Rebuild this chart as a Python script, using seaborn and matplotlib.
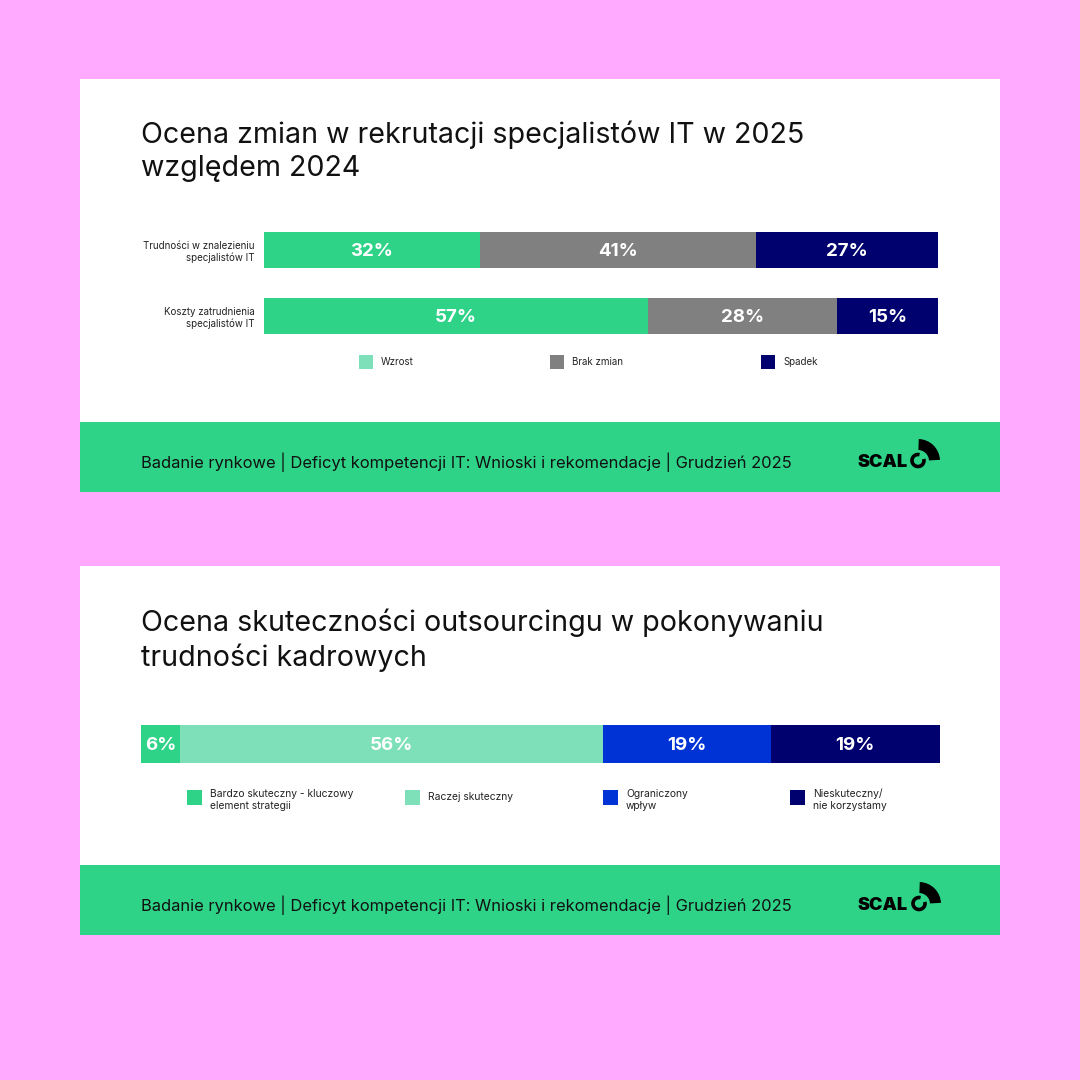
import numpy as np
import pandas as pd
import seaborn as sns
import matplotlib.pyplot as plt
from matplotlib.patches import Rectangle, Wedge, Arc

# dane - wykres 1
kategorie = ['Trudności w znalezieniu\nspecjalistów IT', 'Koszty zatrudnienia\nspecjalistów IT']
serie1 = ['Wzrost', 'Brak zmian', 'Spadek']
wzrost = [32, 57]
brak_zmian = [41, 28]
spadek = [27, 15]

oceny = ['Bardzo skuteczny - kluczowy\nelement strategii', 'Raczej skuteczny',
         'Ograniczony\nwpływ', 'Nieskuteczny/\nnie korzystamy']
udzialy = [4.9, 52.9, 21.0, 21.2]
etykiety2 = ['6%', '56%', '19%', '19%']

tytul1 = 'Ocena zmian w rekrutacji specjalistów IT w 2025\nwzględem 2024'
tytul2 = 'Ocena skuteczności outsourcingu w pokonywaniu\ntrudności kadrowych'
stopka = 'Badanie rynkowe | Deficyt kompetencji IT: Wnioski i rekomendacje | Grudzień 2025'

ROZ = '#FFAAFF'
ZIELONY = '#2ED388'
JASNY = '#7EE0B8'
SZARY = '#808080'
GRANAT = '#00006E'
NIEBIESKI = '#0033D6'

sns.set_theme(style='white')
plt.rcParams['font.family'] = ['Inter', 'DejaVu Sans']

W = 1080
fig = plt.figure(figsize=(10.8, 10.8), dpi=100, facecolor=ROZ)


def px(x, y):
    return x / W, 1 - y / W


def prostokat(x0, y0, x1, y1, kolor):
    fx, fy = px(x0, y1)
    fig.add_artist(Rectangle((fx, fy), (x1 - x0) / W, (y1 - y0) / W,
                             transform=fig.transFigure, color=kolor, lw=0, zorder=0))


def tekst(x, y, s, **kw):
    fx, fy = px(x, y)
    fig.text(fx, fy, s, **kw)


def os(x0, y0, x1, y1):
    fx, fy = px(x0, y1)
    ax = fig.add_axes([fx, fy, (x1 - x0) / W, (y1 - y0) / W])
    ax.patch.set_alpha(0)
    for s in ax.spines.values():
        s.set_visible(False)
    return ax


def logo(x, yb):
    tekst(x, yb, 'SCAL', fontsize=13, fontweight='black', color='black', va='baseline')
    cx, cy = px(x + 61, yb - 6.5)
    fig.add_artist(Arc((cx, cy), 12 / W, 12 / W, theta1=75, theta2=375,
                       transform=fig.transFigure, color='black', lw=2.6))
    wx, wy = px(x + 61, yb - 6)
    fig.add_artist(Wedge((wx, wy), 22 / W, 3, 88, width=11 / W,
                         transform=fig.transFigure, color='black', lw=0))


# karty
prostokat(80, 79, 1000, 422, 'white')
prostokat(80, 422, 1000, 492, ZIELONY)
prostokat(80, 566, 1000, 865, 'white')
prostokat(80, 865, 1000, 935, ZIELONY)

tekst(141, 151, tytul1, fontsize=20.6, color='#111111', va='center', linespacing=1.28)
tekst(141, 640, tytul2, fontsize=20.6, color='#111111', va='center', linespacing=1.28)

for yb in (462, 905):
    tekst(141, yb, stopka, fontsize=11.9, color='#111111', va='center')
logo(857, 467)
logo(858, 910)

# wykres 1 - skumulowane słupki
df1 = pd.DataFrame({'kategoria': kategorie, 'Wzrost': wzrost,
                    'Brak zmian': brak_zmian, 'Spadek': spadek})
kolory1 = [ZIELONY, SZARY, GRANAT]
cum1 = df1[serie1].cumsum(axis=1)

ax1 = os(264, 217, 938, 349)
for s, k in reversed(list(zip(serie1, kolory1))):
    sns.barplot(x=cum1[s], y=df1['kategoria'], orient='h', color=k,
                saturation=1, width=0.545, linewidth=0, ax=ax1)
for i in range(len(df1)):
    start = 0
    for s in serie1:
        v = df1.loc[i, s]
        ax1.text(start + v / 2, i + 0.02, f'{v}%', ha='center', va='center',
                 color='white', fontsize=13.5, fontweight='bold')
        start += v
ax1.set_xlim(0, 100)
ax1.set_ylim(1.5, -0.5)
ax1.set_xlabel('')
ax1.set_ylabel('')
ax1.set_xticks([])
ax1.tick_params(axis='y', length=0, pad=7, labelsize=7, labelcolor='#222222')
for t in ax1.get_yticklabels():
    t.set_multialignment('right')

leg1_x = [359, 550, 761]
leg1_kol = [JASNY, SZARY, GRANAT]
for x, s, k in zip(leg1_x, serie1, leg1_kol):
    prostokat(x, 355, x + 14, 369, k)
    tekst(x + 22, 362, s, fontsize=7, color='#222222', va='center')

# wykres 2 - jeden pasek
kolory2 = [ZIELONY, JASNY, NIEBIESKI, GRANAT]
cum2 = np.cumsum(udzialy)
ax2 = os(141, 715, 940, 773)
for c, k in reversed(list(zip(cum2, kolory2))):
    sns.barplot(x=[c], y=['ocena'], orient='h', color=k, saturation=1,
                width=38 / 58, linewidth=0, ax=ax2)
start = 0
for v, e in zip(udzialy, etykiety2):
    ax2.text(start + v / 2, 0.02, e, ha='center', va='center',
             color='white', fontsize=13.5, fontweight='bold')
    start += v
ax2.set_xlim(0, 100)
ax2.set_ylim(0.5, -0.5)
ax2.set_xticks([])
ax2.set_yticks([])
ax2.set_xlabel('')
ax2.set_ylabel('')

leg2_x = [187, 405, 603, 790]
for x, s, k in zip(leg2_x, oceny, kolory2):
    prostokat(x, 790, x + 15, 805, k)
    yt = 800 if '\n' in s else 797
    tekst(x + 23, yt, s, fontsize=7.4, color='#222222', va='center', linespacing=1.2)

fig.savefig('out.png', dpi=100, facecolor=ROZ)
